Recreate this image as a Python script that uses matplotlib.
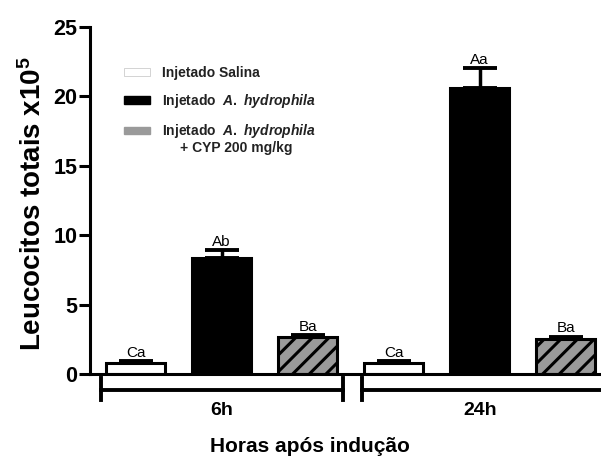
import matplotlib
matplotlib.use("Agg")
import matplotlib.pyplot as plt
import matplotlib.patches as mpatches
from matplotlib.transforms import blended_transform_factory

plt.rcParams['font.family'] = ['Liberation Sans', 'DejaVu Sans']
plt.rcParams['mathtext.fontset'] = 'custom'
plt.rcParams['mathtext.rm'] = 'Liberation Sans:bold'
plt.rcParams['mathtext.it'] = 'Liberation Sans:italic:bold'
plt.rcParams['mathtext.bf'] = 'Liberation Sans:bold'
plt.rcParams['hatch.linewidth'] = 2.2

groups = ["6h", "24h"]
series = ["Injetado Salina", "Injetado A. hydrophila", "Injetado A. hydrophila + CYP 200 mg/kg"]
salina = [0.8, 0.8]
hydro = [8.35, 20.6]
cyp = [2.65, 2.55]
salina_err = [0.15, 0.15]
hydro_err = [0.55, 1.45]
cyp_err = [0.15, 0.15]
letters_salina = ["Ca", "Ca"]
letters_hydro = ["Ab", "Aa"]
letters_cyp = ["Ba", "Ba"]
yticks = [0, 5, 10, 15, 20, 25]

fig = plt.figure(figsize=(6.01, 4.62), dpi=100)
ax = fig.add_axes([90/601, 1-374/462, 511/601, 347/462])

w = 0.69
styles = [dict(facecolor='white', edgecolor='black'),
          dict(facecolor='black', edgecolor='black'),
          dict(facecolor='#9a9a9a', edgecolor='black', hatch='//')]
vals = [salina, hydro, cyp]
errs = [salina_err, hydro_err, cyp_err]
letters = [letters_salina, letters_hydro, letters_cyp]
for gi in range(len(groups)):
    for si in range(3):
        x = gi*3 + si
        v = vals[si][gi]
        e = errs[si][gi]
        ax.bar(x, v, width=w, linewidth=2.2, zorder=2, **styles[si])
        ax.errorbar(x, v, yerr=[[0], [e]], fmt='none', ecolor='black',
                    elinewidth=2.5, capsize=12, capthick=2.8, zorder=3)
        ax.text(x, v + e + 0.08, letters[si][gi], ha='center', va='bottom',
                fontsize=11, zorder=4)

ax.set_xlim(-0.53, 5.41)
ax.set_ylim(0, 25)
ax.set_yticks(yticks)
ax.set_yticklabels([str(t) for t in yticks], fontsize=15.5, fontweight='bold')
ax.set_xticks([])
for s in ['top', 'right']:
    ax.spines[s].set_visible(False)
ax.spines['left'].set_linewidth(2.2)
ax.spines['bottom'].set_linewidth(2.2)
ax.tick_params(axis='y', width=2.2, length=8, pad=1)

ax.set_ylabel("Leucocitos totais x10$^5$", fontsize=20, fontweight='bold')
ax.yaxis.set_label_coords(-0.085, 0.49)

trans = blended_transform_factory(ax.transData, ax.transAxes)
brackets = [(-0.40, 2.41), (2.63, 5.41)]
for (x0, x1), g in zip(brackets, groups):
    ax.plot([x0, x1], [-0.046, -0.046], color='black', lw=2.8, transform=trans, clip_on=False)
    ax.plot([x0, x0], [-0.012, -0.075], color='black', lw=2.8, transform=trans, clip_on=False)
    if x1 < 5:
        ax.plot([x1, x1], [-0.012, -0.075], color='black', lw=2.8, transform=trans, clip_on=False)
ax.text(1, -0.08, groups[0], transform=trans, ha='center', va='top', fontsize=14, fontweight='bold')
ax.text(4, -0.08, groups[1], transform=trans, ha='center', va='top', fontsize=14, fontweight='bold')

fig.text(310/601, 1-446/462, "Horas após indução", ha='center', va='center', fontsize=15, fontweight='bold')

handles = [mpatches.Patch(facecolor='white', edgecolor='#cccccc', linewidth=0.6),
           mpatches.Patch(facecolor='black', edgecolor='black'),
           mpatches.Patch(facecolor='#9a9a9a', edgecolor='#9a9a9a')]
labels = ["Injetado Salina", "Injetado  $\\it{A.\\ hydrophila}$",
          "Injetado  $\\it{A.\\ hydrophila}$"]
leg = ax.legend(handles, labels, loc='upper left', bbox_to_anchor=(0.053, 0.908),
                frameon=False, prop=dict(size=10, weight='bold'),
                handlelength=1.9, handleheight=0.45,
                labelspacing=0.88, handletextpad=0.8, borderpad=0)
for t in leg.get_texts():
    t.set_color('#222222')
fig.text(180/601, 1-148/462, "+ CYP 200 mg/kg", ha='left', va='center',
         fontsize=10, fontweight='bold', color='#222222')

fig.savefig("out.png", dpi=100)
